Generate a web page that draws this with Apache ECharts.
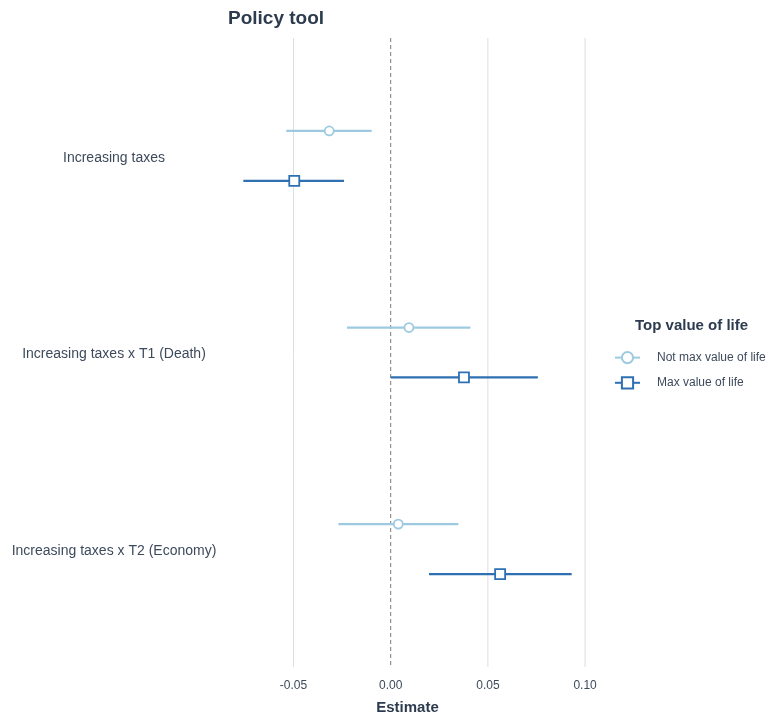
<!DOCTYPE html>
<html>
<head>
<meta charset="utf-8">
<script src="https://cdn.jsdelivr.net/npm/echarts@6/dist/echarts.min.js"></script>
<style>
  html, body { margin: 0; padding: 0; background: #ffffff; }
  #chart { width: 768px; height: 716px; }
</style>
</head>
<body>
<div id="chart"></div>
<script>
// Model terms (top to bottom) and the two respondent groups
const terms = ['Increasing taxes', 'Increasing taxes x T1 (Death)', 'Increasing taxes x T2 (Economy)'];
const groups = ['Not max value of life', 'Max value of life'];

// Point estimates and confidence bounds per term
const notMaxEst  = [-0.0316, 0.0094, 0.0039];
const notMaxLow  = [-0.0537, -0.0225, -0.0269];
const notMaxHigh = [-0.0098, 0.0410, 0.0348];

const maxEst  = [-0.0496, 0.0377, 0.0563];
const maxLow  = [-0.0758, 0.0000, 0.0197];
const maxHigh = [-0.0240, 0.0757, 0.0931];

// Estimate axis ticks
const xTicks = [-0.05, 0.00, 0.05, 0.10];

const FONT = '"Liberation Sans", Arial, Helvetica, sans-serif';
const LIGHT = '#9ECAE1';
const DARK = '#2E70B1';
const DODGE = 0.127;

// One line series per group: each interval is a broken segment with the estimate marker in the middle
function intervalData(est, lo, hi, offset) {
  const out = [];
  est.forEach((e, i) => {
    const y = i + 1 + offset;
    out.push({ value: [lo[i], y], symbol: 'none' });
    out.push({ value: [e, y] });
    out.push({ value: [hi[i], y], symbol: 'none' });
    out.push('-');
  });
  return out;
}

function vLine(stroke, dash) {
  return function (params, api) {
    const cs = params.coordSys;
    const x = api.coord([api.value(0), 2])[0];
    return {
      type: 'line',
      shape: { x1: x, y1: cs.y, x2: x, y2: cs.y + cs.height },
      style: { stroke: stroke, lineWidth: 1, lineDash: dash }
    };
  };
}

const chart = echarts.init(document.getElementById('chart'), null, { renderer: 'canvas' });

chart.setOption({
  animation: false,
  backgroundColor: '#ffffff',
  title: [
    {
      text: 'Policy tool',
      left: 228, top: 9, padding: 0,
      textStyle: { fontFamily: FONT, fontSize: 19, fontWeight: 'bold', color: '#2D3B4E' }
    },
    {
      text: 'Top value of life',
      left: 635, top: 318, padding: 0,
      textStyle: { fontFamily: FONT, fontSize: 15, fontWeight: 'bold', color: '#2D3B4E' }
    }
  ],
  legend: {
    data: groups,
    orient: 'vertical',
    left: 614, top: 351, padding: 0,
    itemWidth: 25, itemHeight: 14, itemGap: 12,
    textStyle: { fontFamily: FONT, fontSize: 12, color: '#3D4A5C', padding: [0, 0, 0, 12] }
  },
  grid: { left: 227, right: 180, top: 38, bottom: 49, containLabel: false, outerBoundsMode: 'none' },
  xAxis: {
    type: 'value',
    min: -0.0842, max: 0.1015,
    name: 'Estimate',
    nameLocation: 'middle',
    nameGap: 33,
    nameTextStyle: { fontFamily: FONT, fontSize: 15, fontWeight: 'bold', color: '#2D3B4E' },
    axisLine: { show: false },
    axisTick: { show: false },
    splitLine: { show: false },
    axisLabel: {
      customValues: xTicks,
      formatter: v => v.toFixed(2),
      margin: 13,
      fontFamily: FONT, fontSize: 12, color: '#3D4A5C'
    }
  },
  yAxis: {
    type: 'value',
    inverse: true,
    min: 0.4, max: 3.6,
    axisLine: { show: false },
    axisTick: { show: false },
    splitLine: { show: false },
    axisLabel: {
      customValues: [1, 2, 3],
      formatter: v => '{t|' + terms[Math.round(v) - 1] + '}',
      align: 'center',
      margin: 113,
      rich: {
        t: { fontFamily: FONT, fontSize: 14, color: '#3D4A5C', padding: [4, 0, 0, 0] }
      }
    }
  },
  series: [
    {
      type: 'custom',
      name: 'grid',
      silent: true,
      z: 0,
      data: xTicks.filter(v => v !== 0).map(v => [v, 2]),
      encode: { x: 0, y: 1 },
      renderItem: vLine('#DEDEDE', null)
    },
    {
      type: 'custom',
      name: 'zero',
      silent: true,
      z: 1,
      data: [[0, 2]],
      encode: { x: 0, y: 1 },
      renderItem: vLine('#7A7A7A', [4, 3])
    },
    {
      type: 'line',
      name: groups[0],
      z: 3,
      data: intervalData(notMaxEst, notMaxLow, notMaxHigh, -DODGE),
      connectNulls: false,
      showSymbol: true,
      symbol: 'circle',
      symbolSize: 9,
      lineStyle: { color: LIGHT, width: 2.2 },
      itemStyle: { color: '#ffffff', borderColor: LIGHT, borderWidth: 1.8 },
      emphasis: { disabled: true }
    },
    {
      type: 'line',
      name: groups[1],
      z: 3,
      data: intervalData(maxEst, maxLow, maxHigh, DODGE),
      connectNulls: false,
      showSymbol: true,
      symbol: 'rect',
      symbolSize: 10,
      lineStyle: { color: DARK, width: 2.2 },
      itemStyle: { color: '#ffffff', borderColor: DARK, borderWidth: 1.8 },
      emphasis: { disabled: true }
    }
  ]
});
</script>
</body>
</html>
